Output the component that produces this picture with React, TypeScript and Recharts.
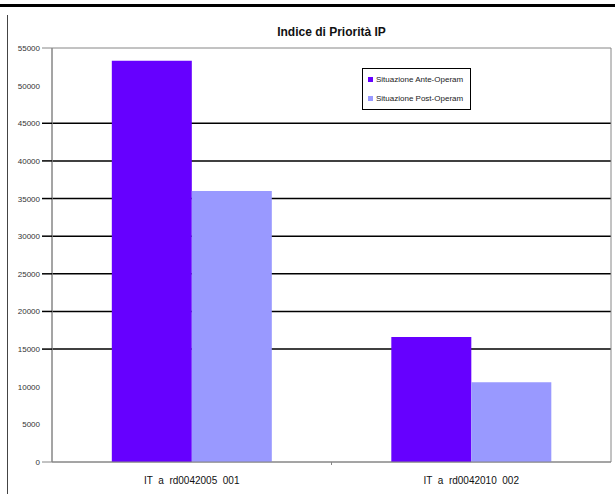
import React from 'react';
import { BarChart, Bar, XAxis, YAxis, CartesianGrid, Legend, ReferenceArea } from 'recharts';

const categories = ['IT  a  rd0042005  001', 'IT  a  rd0042010  002'];
const anteOperam = [53300, 16600];
const postOperam = [36000, 10600];
const yTicks = [0, 5000, 10000, 15000, 20000, 25000, 30000, 35000, 40000, 45000, 50000, 55000];
// only these lines show up in the original
const gridValues = [15000, 20000, 25000, 30000, 35000, 40000, 45000];
const tickLineValues = [0, 15000, 20000, 25000, 30000, 35000, 40000, 45000, 55000];

const series = [
  { key: 'ante', name: 'Situazione Ante-Operam', color: '#6600FF' },
  { key: 'post', name: 'Situazione Post-Operam', color: '#9999FF' },
];

const data = categories.map((c, i) => ({ name: c, ante: anteOperam[i], post: postOperam[i] }));

const font = '"Liberation Sans", Arial, sans-serif';

const YTick = (props: any) => {
  const { x, y, payload } = props;
  const v = payload.value;
  return (
    <g>
      {tickLineValues.includes(v) && <line x1={x - 2} x2={x + 8} y1={y} y2={y} stroke={v === 0 || v === 55000 ? '#868686' : '#000'} strokeWidth={v === 0 || v === 55000 ? 1 : 1.5} />}
      <text x={x - 4} y={y} dy={3} textAnchor="end" fontSize={8} fill="#333" fontFamily={font}>{v}</text>
    </g>
  );
};

const XTick = (props: any) => {
  const { x, y, payload, index } = props;
  const band = (611 - 52) / categories.length;
  return (
    <g>
      {index < categories.length - 1 && <line x1={x + band / 2} x2={x + band / 2} y1={y - 8} y2={y - 5} stroke="#868686" />}
      <text x={x} y={y + 14} textAnchor="middle" fontSize={10} fill="#111" fontFamily={font} style={{ whiteSpace: 'pre' }}>{payload.value}</text>
    </g>
  );
};

const LegendBox = () => (
  <div style={{ width: 109, height: 42, border: '1px solid #000', background: '#fff', boxSizing: 'border-box', fontFamily: font, fontSize: 8, color: '#222', paddingLeft: 5 }}>
    {series.map((s, i) => (
      <div key={s.key} style={{ display: 'flex', alignItems: 'center', marginTop: i === 0 ? 6 : 10, height: 9 }}>
        <span style={{ width: 5, height: 5, background: s.color, display: 'inline-block', marginRight: 3 }} />
        <span>{s.name}</span>
      </div>
    ))}
  </div>
);

export default function App() {
  return (
    <div style={{ position: 'absolute', left: 0, top: 0, width: 615, height: 494, background: '#fff', overflow: 'hidden' }}>
      <div style={{ position: 'absolute', left: 0, top: 4, width: 615, height: 3, background: '#000' }} />
      <div style={{ position: 'absolute', left: 7, top: 15, width: 1, height: 479, background: '#444' }} />
      <div style={{ position: 'absolute', left: 52, width: 559, top: 25, textAlign: 'center', fontFamily: font, fontWeight: 'bold', fontSize: 12, color: '#111' }}>
        Indice di Priorità IP
      </div>
      <BarChart width={615} height={494} data={data} margin={{ top: 48, right: 4, left: 0, bottom: 2 }} barCategoryGap="21.4%" barGap={0}>
        <CartesianGrid vertical={false} horizontalValues={gridValues} stroke="#000" strokeWidth={1.5} />
        <ReferenceArea y1={0} y2={55000} stroke="#868686" fill="none" fillOpacity={0} />
        <XAxis dataKey="name" height={30} axisLine={{ stroke: '#868686' }} tickLine={false} tick={<XTick />} interval={0} />
        <YAxis width={52} domain={[0, 55000]} ticks={yTicks} interval={0} axisLine={{ stroke: '#868686' }} tickLine={false} tick={<YTick />} />
        <Legend content={<LegendBox />} layout="horizontal" verticalAlign="middle" align="center" wrapperStyle={{ left: 362, top: 68, width: 109 }} />
        {series.map(s => (
          <Bar key={s.key} dataKey={s.key} name={s.name} fill={s.color} isAnimationActive={false} />
        ))}
      </BarChart>
    </div>
  );
}
